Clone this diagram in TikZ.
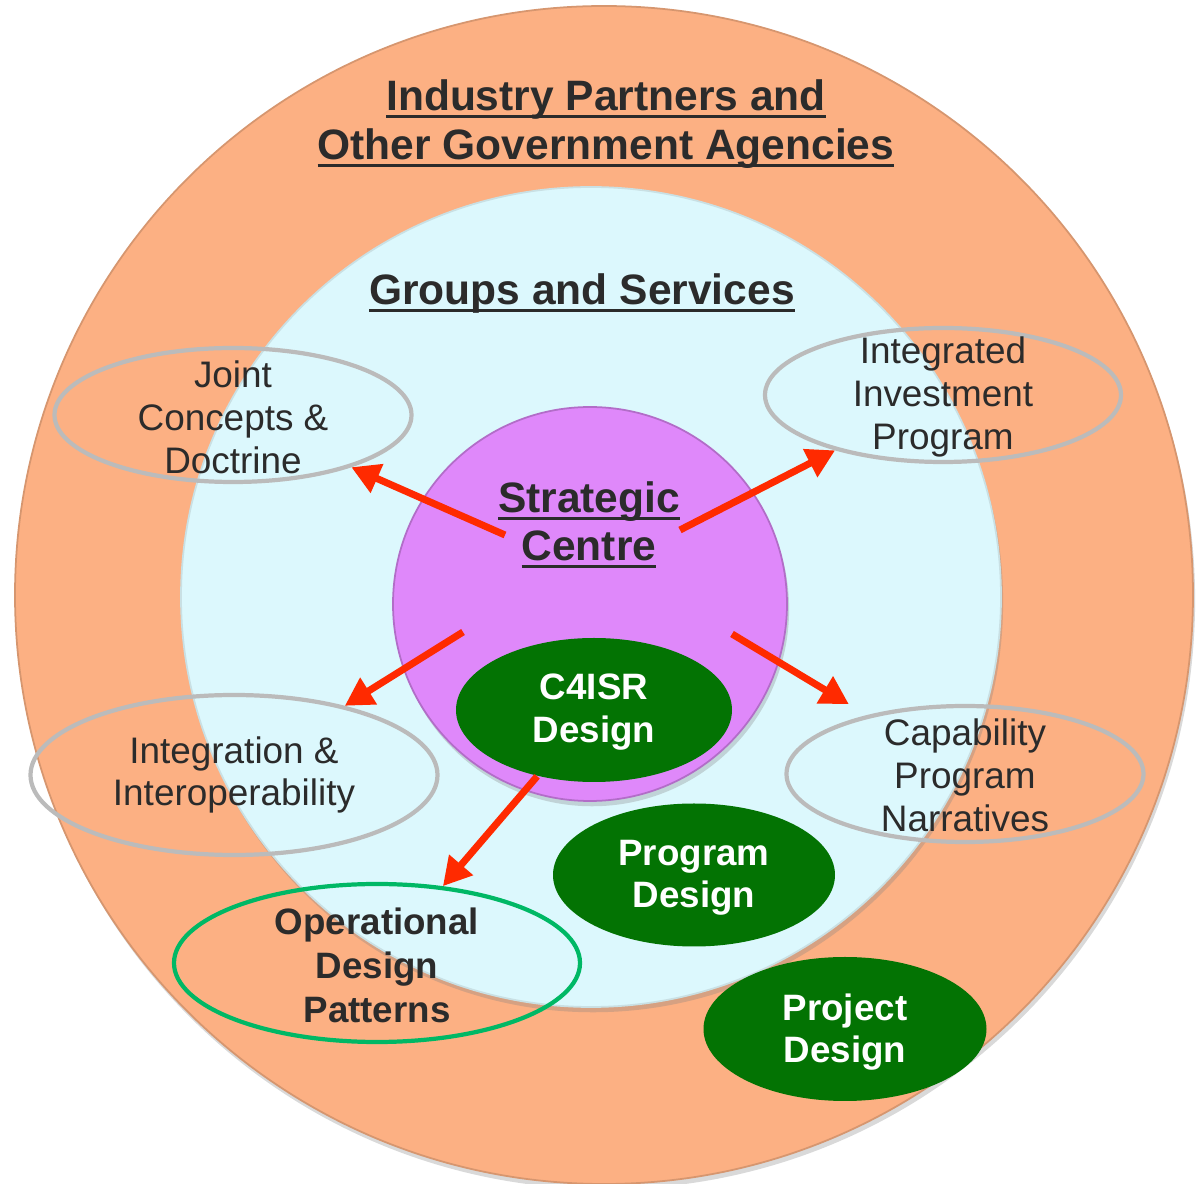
\documentclass[tikz,border=0pt]{standalone}
\usepackage{fontspec}
\setmainfont{Liberation Sans}
\usetikzlibrary{shapes.geometric,arrows.meta,shadows}
\definecolor{ringorange}{HTML}{FCB083}
\definecolor{ringblue}{HTML}{DCF8FD}
\definecolor{corepurple}{HTML}{DF88FA}
\definecolor{designgreen}{HTML}{037303}
\definecolor{arrowred}{HTML}{FF2A00}
\definecolor{outlinegray}{HTML}{BBBBBB}
\definecolor{outlinegreen}{HTML}{00B865}
\definecolor{txtgray}{HTML}{2B2B2B}
\newsavebox{\ulbox}
\newcommand{\ulhead}[1]{\sbox{\ulbox}{#1}\vtop{\copy\ulbox\kern-\dp\ulbox\kern1.3pt\hrule height 0.85pt}}
\tikzset{
  arrow/.style={-{Triangle[length=8pt,width=8.5pt]}, line width=2pt, draw=arrowred},
  ring/.style={circle, inner sep=0pt, drop shadow={shadow xshift=0.6pt, shadow yshift=-1.5pt, opacity=0.3}},
  oval/.style={ellipse, inner sep=0pt, draw=outlinegray, line width=1.2pt},
  designoval/.style={ellipse, inner sep=0pt, fill=designgreen},
  lighttext/.style={align=center, text=txtgray, font=\fontsize{10.5}{12.2}\selectfont},
  boldtext/.style={align=center, text=txtgray, font=\bfseries\fontsize{10.45}{12.5}\selectfont},
  whitetext/.style={align=center, text=white, font=\bfseries\fontsize{10.45}{12}\selectfont},
  heading/.style={align=center, text=txtgray, font=\bfseries\fontsize{12.1}{14}\selectfont}
}

\begin{document}
\begin{tikzpicture}
  \useasboundingbox (0,0) rectangle (11.97,-11.84);

  % rings
  \node[ring, fill=ringorange, draw=ringorange!85!black, line width=0.5pt, minimum size=11.78cm] (outer) at (6.04,-5.95) {};
  \node[ring, fill=ringblue, draw=ringblue!80!gray, line width=0.5pt, minimum size=8.2cm] (groups) at (5.91,-5.97) {};
  \node[ring, fill=corepurple, draw=corepurple!80!black, line width=0.5pt, minimum size=3.94cm] (core) at (5.90,-6.04) {};

  \node[heading] (outertxt) at (6.06,-1.23) {\ulhead{Industry Partners and}\\\ulhead{Other Government Agencies}};
  \node[heading] (groupstxt) at (5.82,-2.93) {\ulhead{Groups and Services}};
  \node[heading, font=\bfseries\fontsize{12.1}{13.7}\selectfont] (coretxt) at (5.89,-5.25) {\ulhead{Strategic}\\\ulhead{Centre}};

  % outlined ovals
  \node[oval, minimum width=3.57cm, minimum height=1.34cm] (joint) at (2.33,-4.15) {};
  \node[oval, minimum width=3.56cm, minimum height=1.34cm] (invest) at (9.43,-3.95) {};
  \node[oval, minimum width=4.07cm, minimum height=1.60cm] (integ) at (2.34,-7.75) {};
  \node[oval, minimum width=3.57cm, minimum height=1.36cm] (cap) at (9.65,-7.74) {};
  \node[oval, draw=outlinegreen, minimum width=4.06cm, minimum height=1.58cm] (ops) at (3.77,-9.63) {};

  \node[lighttext] (jointtxt) at (2.33,-4.17) {Joint\\Concepts \&\\Doctrine};
  \node[lighttext] (investtxt) at (9.43,-3.97) {Integrated\\Investment\\Program};
  \node[lighttext] (integtxt) at (2.34,-7.75) {Integration \&\\Interoperability};
  \node[lighttext] (captxt) at (9.65,-7.75) {Capability\\Program\\Narratives};
  \node[boldtext] (opstxt) at (3.77,-9.65) {Operational\\Design\\Patterns};

  % design ovals
  \node[designoval, minimum width=2.76cm, minimum height=1.44cm] (c4isr) at (5.94,-7.10) {};
  \node[designoval, minimum width=2.82cm, minimum height=1.43cm] (prog) at (6.94,-8.75) {};
  \node[designoval, minimum width=2.83cm, minimum height=1.44cm] (proj) at (8.45,-10.29) {};

  \node[whitetext] (c4isrtxt) at (5.94,-7.12) {C4ISR\\Design};
  \node[whitetext] (progtxt) at (6.94,-8.78) {Program\\Design};
  \node[whitetext] (projtxt) at (8.45,-10.32) {Project\\Design};

  % arrows
  \coordinate (s1) at (5.05,-5.35);
  \coordinate (s2) at (6.80,-5.30);
  \coordinate (s3) at (4.63,-6.32);
  \coordinate (s4) at (7.32,-6.34);

  \draw[arrow] (s1) -- (joint);
  \draw[arrow] (s2) -- (invest);
  \draw[arrow] (s3) -- (integ);
  \draw[arrow, shorten >=6pt] (s4) -- (cap);
  \draw[arrow] (c4isr) -- (ops);
\end{tikzpicture}
\end{document}
